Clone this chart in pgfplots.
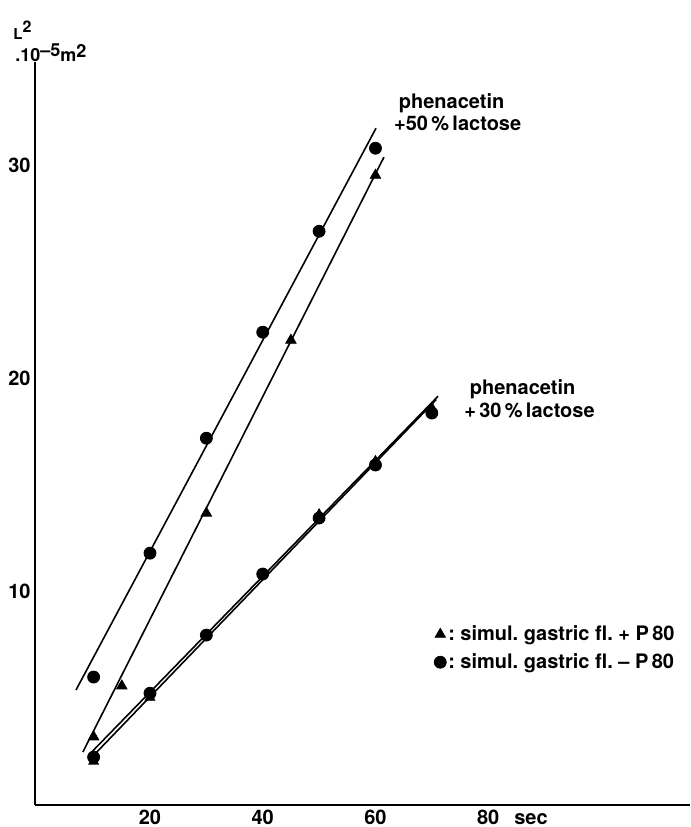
\documentclass[border=0pt]{standalone}
\usepackage{pgfplots}
\pgfplotsset{compat=1.18}
\usepackage{fontspec}
\setmainfont{TeX Gyre Heros}

\begin{document}
\begin{tikzpicture}[font=\fontsize{10}{12}\selectfont\bfseries]
\path[use as bounding box] (-17.5pt,-11pt) rectangle (328pt,402.5pt);
\begin{axis}[
  at={(0,0)}, anchor=south west,
  scale only axis, width=327.5pt, height=371.5pt,
  xmin=-0.4, xmax=115.8, ymin=-0.05, ymax=34.85,
  axis x line=bottom, axis y line=left,
  axis line style={-, line width=1pt},
  xtick={20,40,60,80}, ytick={10,20,30},
  extra x ticks={87.6}, extra x tick labels={sec},
  major tick length=0pt,
  /pgf/number format/assume math mode=true,
  x tick label style={anchor=base, yshift=-9.5pt},
  y tick label style={inner xsep=2pt},
  clip=false,
  legend style={draw=none, fill=none, at={(axis description cs:0.609,0.245)},
    anchor=north west, row sep=3pt, inner sep=0pt, nodes={inner sep=1pt}},
  legend cell align=left,
  legend image code/.code={\draw[#1] plot coordinates {(0pt,0pt)};},
]
% phenacetin + 50% lactose, triangles (+P80)
\addplot[only marks, mark=triangle*, mark size=3pt] coordinates {
  (10,3.15) (15,5.54) (30,13.66) (45,21.78) (60,29.53)
};
\addlegendentry{:\ simul.\ gastric fl.\ +\ P\,80}
% phenacetin + 50% lactose, circles (-P80)
\addplot[only marks, mark=*, mark size=3pt] coordinates {
  (10,5.96) (20,11.78) (30,17.18) (40,22.16) (50,26.9) (60,30.8)
};
\addlegendentry{:\ simul.\ gastric fl.\ \textendash\ P\,80}

% phenacetin + 30% lactose
\addplot[only marks, mark=*, mark size=3pt, forget plot] coordinates {
  (10,2.2) (20,5.2) (30,7.93) (40,10.8) (50,13.43) (60,15.92) (70,18.36)
};
\addplot[only marks, mark=triangle*, mark size=2.8pt, forget plot] coordinates {
  (10,2.0) (20,5.0) (50,13.6) (60,16.1) (70,18.6)
};

% fitted lines
\addplot[line width=0.8pt, forget plot] coordinates {(6.87,5.35) (60.1,31.74)};
\addplot[line width=0.8pt, forget plot] coordinates {(8.1,2.44) (61.5,30.38)};
\addplot[line width=0.8pt, forget plot] coordinates {(9.7,2.45) (71.1,19.15)};
\addplot[line width=0.8pt, forget plot] coordinates {(9.7,2.2) (70.8,19.0)};

\node[anchor=base west] at (axis cs:62.9,32.68) {phenacetin};
\node[anchor=base west] at (axis cs:62.06,31.64) {+50\,\%\,lactose};
\node[anchor=base west] at (axis cs:75.5,19.25) {phenacetin};
\node[anchor=base west] at (axis cs:74.5,18.17) {+\,30\,\%\,lactose};

\node[anchor=base west, inner sep=0pt] at (axis description cs:-0.0336,1.030)
  {{\fontsize{7.5}{8}\selectfont L}\raisebox{3.5pt}{\fontsize{8}{9}\selectfont 2}};
\node[anchor=base west, inner sep=0pt, font=\fontsize{9}{10}\selectfont\bfseries]
  at (axis description cs:-0.0305,1.0005)
  {.10\raisebox{2.5pt}{\textendash 5}m\raisebox{2pt}{2}};
\end{axis}
\end{tikzpicture}
\end{document}
